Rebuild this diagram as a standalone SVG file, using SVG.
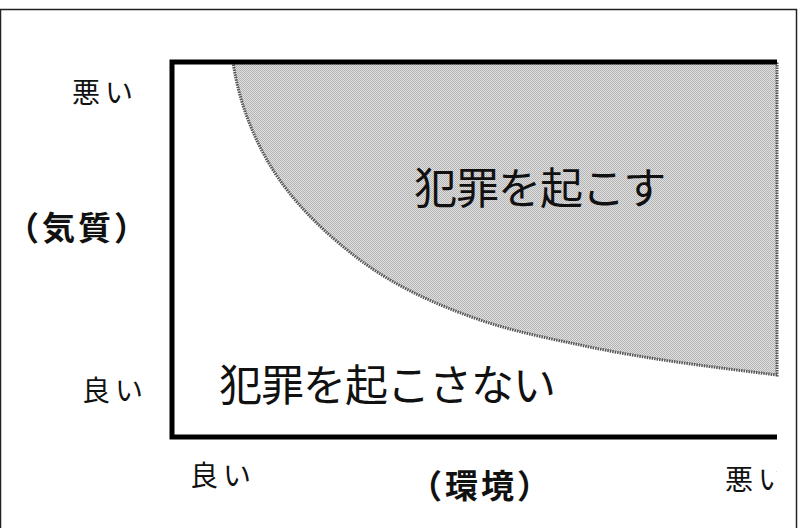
<svg xmlns="http://www.w3.org/2000/svg" width="802" height="528" viewBox="0 0 802 528">
<defs>
<style>
.t{font-family:"Liberation Sans","Noto Sans CJK JP",sans-serif;fill:#111}
.s{font-size:28px;letter-spacing:5px}
.b{font-size:33px;font-weight:bold;letter-spacing:3px}
.l{font-size:43px;letter-spacing:-1px}
</style>
<pattern id="dots" width="2" height="2" patternUnits="userSpaceOnUse">
<rect width="2" height="2" fill="#e0e0e0"/>
<rect width="1" height="1" fill="#b4b4b4"/>
<rect x="1" y="1" width="1" height="1" fill="#b4b4b4"/>
</pattern>
<clipPath id="clip"><rect x="0" y="0" width="777" height="528"/></clipPath>
</defs>
<rect x="0.5" y="9.5" width="796" height="530" fill="#fff" stroke="#222" stroke-width="1.5"/>
<g id="region">
<path d="M233,62 C238,97 250,130 267,160 C289,199 324,233 360,260 C396,287 437,305 480,320 C512,331 547,338 580,345 C645,359 712,367 777,375 L777,62 Z" fill="url(#dots)" stroke="#555" stroke-width="3" stroke-dasharray="1.5 1"/>
</g>
<g id="axes" fill="none" stroke="#000" stroke-width="5">
<path d="M777,62 H172 V437 H777"/>
</g>
<g id="labels">
<text class="t s" x="72" y="103">悪い</text>
<text class="t b" x="6" y="240">（気質）</text>
<text class="t s" x="82" y="401">良い</text>
<text class="t s" x="190" y="486">良い</text>
<text class="t b" x="409" y="498">（環境）</text>
<text class="t s" x="725" y="490" clip-path="url(#clip)">悪い</text>
<text class="t l" x="414" y="204">犯罪を起こす</text>
<text class="t l" x="219" y="401">犯罪を起こさない</text>
</g>
</svg>
